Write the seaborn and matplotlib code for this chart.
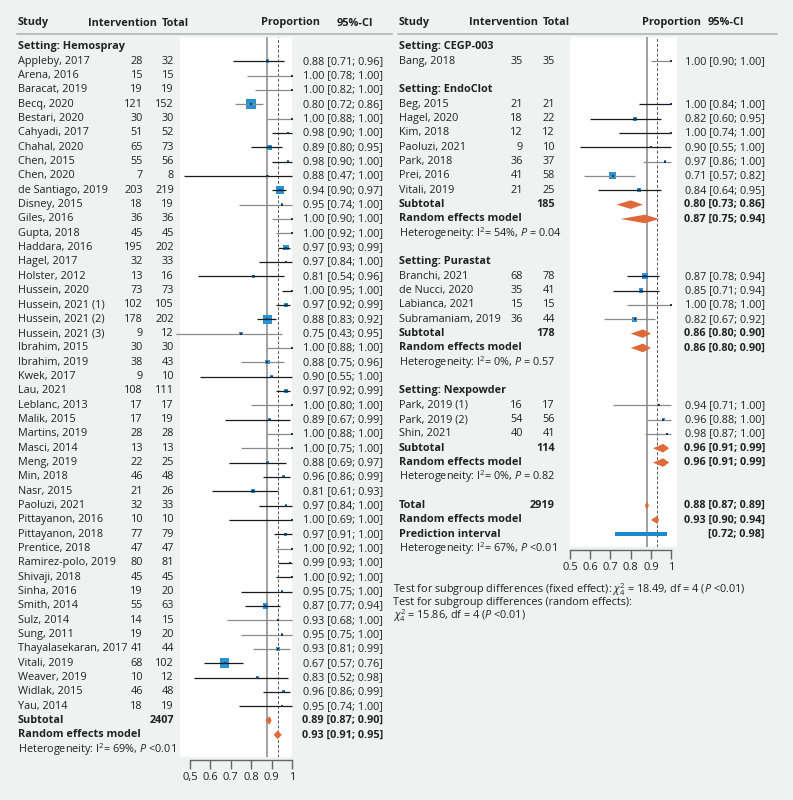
import numpy as np
import pandas as pd
import matplotlib.pyplot as plt
import matplotlib.transforms as mtransforms
from matplotlib.lines import Line2D
import seaborn as sns

# ---------------- data ----------------
# Setting: Hemospray
hemo_study = ["Appleby, 2017", "Arena, 2016", "Baracat, 2019", "Becq, 2020", "Bestari, 2020",
              "Cahyadi, 2017", "Chahal, 2020", "Chen, 2015", "Chen, 2020", "de Santiago, 2019",
              "Disney, 2015", "Giles, 2016", "Gupta, 2018", "Haddara, 2016", "Hagel, 2017",
              "Holster, 2012", "Hussein, 2020", "Hussein, 2021 (1)", "Hussein, 2021 (2)",
              "Hussein, 2021 (3)", "Ibrahim, 2015", "Ibrahim, 2019", "Kwek, 2017", "Lau, 2021",
              "Leblanc, 2013", "Malik, 2015", "Martins, 2019", "Masci, 2014", "Meng, 2019",
              "Min, 2018", "Nasr, 2015", "Paoluzi, 2021", "Pittayanon, 2016", "Pittayanon, 2018",
              "Prentice, 2018", "Ramirez-polo, 2019", "Shivaji, 2018", "Sinha, 2016", "Smith, 2014",
              "Sulz, 2014", "Sung, 2011", "Thayalasekaran, 2017", "Vitali, 2019", "Weaver, 2019",
              "Widlak, 2015", "Yau, 2014"]
hemo_events = [28, 15, 19, 121, 30, 51, 65, 55, 7, 203, 18, 36, 45, 195, 32, 13, 73, 102, 178, 9,
               30, 38, 9, 108, 17, 17, 28, 13, 22, 46, 21, 32, 10, 77, 47, 80, 45, 19, 55, 14, 19,
               41, 68, 10, 46, 18]
hemo_total = [32, 15, 19, 152, 30, 52, 73, 56, 8, 219, 19, 36, 45, 202, 33, 16, 73, 105, 202, 12,
              30, 43, 10, 111, 17, 19, 28, 13, 25, 48, 26, 33, 10, 79, 47, 81, 45, 20, 63, 15, 20,
              44, 102, 12, 48, 19]
hemo_prop = [0.88, 1.00, 1.00, 0.80, 1.00, 0.98, 0.89, 0.98, 0.88, 0.94, 0.95, 1.00, 1.00, 0.97,
             0.97, 0.81, 1.00, 0.97, 0.88, 0.75, 1.00, 0.88, 0.90, 0.97, 1.00, 0.89, 1.00, 1.00,
             0.88, 0.96, 0.81, 0.97, 1.00, 0.97, 1.00, 0.99, 1.00, 0.95, 0.87, 0.93, 0.95, 0.93,
             0.67, 0.83, 0.96, 0.95]
hemo_lo = [0.71, 0.78, 0.82, 0.72, 0.88, 0.90, 0.80, 0.90, 0.47, 0.90, 0.74, 0.90, 0.92, 0.93,
           0.84, 0.54, 0.95, 0.92, 0.83, 0.43, 0.88, 0.75, 0.55, 0.92, 0.80, 0.67, 0.88, 0.75,
           0.69, 0.86, 0.61, 0.84, 0.69, 0.91, 0.92, 0.93, 0.92, 0.75, 0.77, 0.68, 0.75, 0.81,
           0.57, 0.52, 0.86, 0.74]
hemo_hi = [0.96, 1.00, 1.00, 0.86, 1.00, 1.00, 0.95, 1.00, 1.00, 0.97, 1.00, 1.00, 1.00, 0.99,
           1.00, 0.96, 1.00, 0.99, 0.92, 0.95, 1.00, 0.96, 1.00, 0.99, 1.00, 0.99, 1.00, 1.00,
           0.97, 0.99, 0.93, 1.00, 1.00, 1.00, 1.00, 1.00, 1.00, 1.00, 0.94, 1.00, 1.00, 0.99,
           0.76, 0.98, 0.99, 1.00]

# Setting: CEGP-003
cegp_study = ["Bang, 2018"]
cegp_events = [35]
cegp_total = [35]
cegp_prop = [1.00]
cegp_lo = [0.90]
cegp_hi = [1.00]

# Setting: EndoClot
endo_study = ["Beg, 2015", "Hagel, 2020", "Kim, 2018", "Paoluzi, 2021", "Park, 2018",
              "Prei, 2016", "Vitali, 2019"]
endo_events = [21, 18, 12, 9, 36, 41, 21]
endo_total = [21, 22, 12, 10, 37, 58, 25]
endo_prop = [1.00, 0.82, 1.00, 0.90, 0.97, 0.71, 0.84]
endo_lo = [0.84, 0.60, 0.74, 0.55, 0.86, 0.57, 0.64]
endo_hi = [1.00, 0.95, 1.00, 1.00, 1.00, 0.82, 0.95]

# Setting: Purastat
pura_study = ["Branchi, 2021", "de Nucci, 2020", "Labianca, 2021", "Subramaniam, 2019"]
pura_events = [68, 35, 15, 36]
pura_total = [78, 41, 15, 44]
pura_prop = [0.87, 0.85, 1.00, 0.82]
pura_lo = [0.78, 0.71, 0.78, 0.67]
pura_hi = [0.94, 0.94, 1.00, 0.92]

# Setting: Nexpowder
nex_study = ["Park, 2019 (1)", "Park, 2019 (2)", "Shin, 2021"]
nex_events = [16, 54, 40]
nex_total = [17, 56, 41]
nex_prop = [0.94, 0.96, 0.98]
nex_lo = [0.71, 0.88, 0.87]
nex_hi = [1.00, 1.00, 1.00]

# subgroup summaries: n, fixed (est, lo, hi), random (est, lo, hi), I2, P text
hemo_n, hemo_fixed, hemo_random, hemo_het = 2407, (0.89, 0.87, 0.90), (0.93, 0.91, 0.95), ("69%", "<0.01")
endo_n, endo_fixed, endo_random, endo_het = 185, (0.80, 0.73, 0.86), (0.87, 0.75, 0.94), ("54%", "= 0.04")
pura_n, pura_fixed, pura_random, pura_het = 178, (0.86, 0.80, 0.90), (0.86, 0.80, 0.90), ("0%", "= 0.57")
nex_n, nex_fixed, nex_random, nex_het = 114, (0.96, 0.91, 0.99), (0.96, 0.91, 0.99), ("0%", "= 0.82")
total_n, total_fixed, total_random, total_het = 2919, (0.88, 0.87, 0.89), (0.93, 0.90, 0.94), ("67%", "<0.01")
pred_interval = (0.72, 0.98)

# CI lines drawn in grey instead of black
gray_ci = {"Arena, 2016", "Baracat, 2019", "Becq, 2020", "Bestari, 2020", "Disney, 2015",
           "Giles, 2016", "Gupta, 2018", "Hussein, 2021 (3)", "Ibrahim, 2015", "Ibrahim, 2019",
           "Leblanc, 2013", "Martins, 2019", "Masci, 2014", "Prentice, 2018", "Sulz, 2014",
           "Sung, 2011", "Thayalasekaran, 2017", "Bang, 2018", "Park, 2018", "Prei, 2016",
           "Labianca, 2021", "Subramaniam, 2019", "Park, 2019 (1)", "Park, 2019 (2)", "Shin, 2021"}

# ---------------- style ----------------
BG = "#f0f1f1"
BLUE = "#2a92d2"
NAVY = "#16385a"
ORANGE = "#e0693a"
PRED = "#1a8ad0"
BLACK = "#1a1a1a"
GRAY = "#8a8a8a"
FS = 7.8

sns.set_theme(style="white")
plt.rcParams["font.family"] = ["Open Sans", "DejaVu Sans"]
plt.rcParams["mathtext.fontset"] = "custom"
plt.rcParams["mathtext.rm"] = "Open Sans"
plt.rcParams["mathtext.it"] = "Open Sans:italic"
plt.rcParams["mathtext.bf"] = "Open Sans:bold"
plt.rcParams["text.color"] = "#222222"

W, H = 793, 800
ROW0, ROWH = 47, 14.33  # pixel y of first row and row height

fig = plt.figure(figsize=(W / 100, H / 100), dpi=100, facecolor=BG)


def make_panel(x0, x1, y0, y1, zero_px, half_px, labels):
    # x0..x1, y0..y1 pixel box of the white panel; zero_px = pixel of 0.5, half_px = px per 0.5
    ax = fig.add_axes([x0 / W, 1 - y1 / H, (x1 - x0) / W, (y1 - y0) / H])
    ax.set_facecolor("white")
    scale = half_px / 0.5
    ax.set_xlim(0.5 + (x0 - zero_px) / scale, 0.5 + (x1 - zero_px) / scale)
    ax.set_ylim((y1 - ROW0) / ROWH, (y0 - ROW0) / ROWH)
    for s in ["top", "left", "right"]:
        ax.spines[s].set_visible(False)
    ax.spines["bottom"].set_bounds(0.5, 1.0)
    ax.spines["bottom"].set_position(("outward", 2))
    ax.spines["bottom"].set_color("#666666")
    ax.spines["bottom"].set_linewidth(1.0)
    ticks = [0.5, 0.6, 0.7, 0.8, 0.9, 1.0]
    ax.set_xticks(ticks)
    ax.set_xticklabels(labels)
    ax.set_yticks([])
    ax.tick_params(axis="x", direction="out", length=6.5, width=1.0, color="#666666",
                   labelsize=8, labelcolor="#222222", pad=2, bottom=True)
    ax.axvline(total_fixed[0], color="#9a9a9a", lw=1.3, zorder=1)
    ax.axvline(total_random[0], color="#555555", lw=0.7, ls=(0, (3, 2)), zorder=1)
    return ax


def row_text(ax, xpx, row, s, ha="left", bold=False, size=FS):
    tr = mtransforms.blended_transform_factory(fig.transFigure, ax.transData)
    ax.text(xpx / W, row, s, transform=tr, ha=ha, va="center", fontsize=size,
            fontweight="bold" if bold else "normal", clip_on=False)


def ci_text(est, lo, hi):
    return f"{est:.2f} [{lo:.2f}; {hi:.2f}]"


def draw_studies(ax, cols, start, study, events, total, prop, lo, hi):
    df = pd.DataFrame(dict(study=study, events=events, total=total, prop=prop, lo=lo, hi=hi))
    df["row"] = np.arange(start, start + len(df))
    # inverse-variance style weight -> square side
    w = (df.events + 0.5) * (df.total - df.events + 0.5) / (df.total + 1)
    side_pt = 2.0 * np.sqrt(w) * 0.72
    sns.scatterplot(x=df["prop"], y=df["row"], s=side_pt ** 2, marker="s", color=BLUE,
                    linewidth=0, ax=ax, zorder=2, legend=False, clip_on=False)
    colors = [GRAY if s in gray_ci else BLACK for s in df.study]
    ax.hlines(df.row, df.lo, df.hi, colors=colors, lw=0.9, zorder=3, clip_on=False)
    sns.scatterplot(x=df["prop"], y=df["row"], s=3.5, marker="s", color=NAVY,
                    linewidth=0, ax=ax, zorder=4, legend=False, clip_on=False)
    for _, r in df.iterrows():
        row_text(ax, cols["study"], r.row, r.study)
        row_text(ax, cols["ev"], r.row, str(r.events), ha="right")
        row_text(ax, cols["tot"], r.row, str(r.total), ha="right")
        row_text(ax, cols["val"], r.row, ci_text(r.prop, r.lo, r.hi), ha="right")
    return start + len(df)


def diamond(ax, row, est, lo, hi, h=0.3):
    ax.fill([lo, est, hi, est], [row, row - h, row, row + h], color=ORANGE, lw=0,
            zorder=3, clip_on=False)


def draw_summary(ax, cols, row, label, n, fixed, random, het):
    row_text(ax, cols["study"], row, label, bold=True)
    row_text(ax, cols["tot"], row, str(n), ha="right", bold=True)
    row_text(ax, cols["val"], row, ci_text(*fixed), ha="right", bold=True)
    diamond(ax, row, *fixed)
    row_text(ax, cols["study"], row + 1, "Random effects model", bold=True)
    row_text(ax, cols["val"], row + 1, ci_text(*random), ha="right", bold=True)
    diamond(ax, row + 1, *random)
    i2, p = het
    row_text(ax, cols["study"], row + 2, f"Heterogeneity: I$^2$= {i2}, $P$ {p}")
    return row + 3


def header(ax, cols):
    hy = (23 - ROW0) / ROWH
    row_text(ax, cols["study"], hy, "Study", bold=True)
    row_text(ax, cols["h_ev"], hy, "Intervention", ha="right", bold=True)
    row_text(ax, cols["h_tot"], hy, "Total", ha="right", bold=True)
    row_text(ax, cols["h_prop"], hy, "Proportion", bold=True)
    row_text(ax, cols["h_ci"], hy, "95%-CI", bold=True)


# ---------------- left panel ----------------
axL = make_panel(180, 292, 37, 757, 190, 103, ["0,5", "0.6", "0.7", "0.8", "0.9", "1"])
colsL = dict(study=18, ev=143, tot=174, val=383, h_ev=157, h_tot=189, h_prop=261, h_ci=337)
header(axL, colsL)
row_text(axL, colsL["study"], 0, "Setting: Hemospray", bold=True)
r = draw_studies(axL, colsL, 1, hemo_study, hemo_events, hemo_total, hemo_prop, hemo_lo, hemo_hi)
draw_summary(axL, colsL, r, "Subtotal", hemo_n, hemo_fixed, hemo_random, hemo_het)

# ---------------- right panel ----------------
axR = make_panel(570, 677, 37, 547, 566, 105, ["0.5", "0.6", "0.7", "0.8", "0.9", "1"])
colsR = dict(study=399, ev=523, tot=555, val=765, h_ev=538, h_tot=570, h_prop=642, h_ci=708)
header(axR, colsR)

r = 0
row_text(axR, colsR["study"], r, "Setting: CEGP-003", bold=True)
r = draw_studies(axR, colsR, r + 1, cegp_study, cegp_events, cegp_total, cegp_prop, cegp_lo, cegp_hi)
r += 1
row_text(axR, colsR["study"], r, "Setting: EndoClot", bold=True)
r = draw_studies(axR, colsR, r + 1, endo_study, endo_events, endo_total, endo_prop, endo_lo, endo_hi)
r = draw_summary(axR, colsR, r, "Subtotal", endo_n, endo_fixed, endo_random, endo_het) + 1
row_text(axR, colsR["study"], r, "Setting: Purastat", bold=True)
r = draw_studies(axR, colsR, r + 1, pura_study, pura_events, pura_total, pura_prop, pura_lo, pura_hi)
r = draw_summary(axR, colsR, r, "Subtotal", pura_n, pura_fixed, pura_random, pura_het) + 1
row_text(axR, colsR["study"], r, "Setting: Nexpowder", bold=True)
r = draw_studies(axR, colsR, r + 1, nex_study, nex_events, nex_total, nex_prop, nex_lo, nex_hi)
r = draw_summary(axR, colsR, r, "Subtotal", nex_n, nex_fixed, nex_random, nex_het) + 1

# overall
row_text(axR, colsR["study"], r, "Total", bold=True)
row_text(axR, colsR["tot"], r, str(total_n), ha="right", bold=True)
row_text(axR, colsR["val"], r, ci_text(*total_fixed), ha="right", bold=True)
diamond(axR, r, *total_fixed, h=0.27)
row_text(axR, colsR["study"], r + 1, "Random effects model", bold=True)
row_text(axR, colsR["val"], r + 1, ci_text(*total_random), ha="right", bold=True)
diamond(axR, r + 1, *total_random, h=0.27)
row_text(axR, colsR["study"], r + 2, "Prediction interval", bold=True)
row_text(axR, colsR["val"], r + 2, f"[{pred_interval[0]:.2f}; {pred_interval[1]:.2f}]", ha="right", bold=True)
axR.hlines(r + 2, pred_interval[0], pred_interval[1], color=PRED, lw=2.9, zorder=3)
row_text(axR, colsR["study"], r + 3, f"Heterogeneity: I$^2$= {total_het[0]}, $P$ {total_het[1]}")

for a in (axL, axR):
    a.set_xlabel("")
    a.set_ylabel("")

# header rules
for x0, x1 in [(17, 392), (398, 777)]:
    fig.add_artist(Line2D([x0 / W, x1 / W], [1 - 34 / H, 1 - 34 / H], color="#bdbdbd", lw=1.4))

# subgroup tests
FT = 7.8
fig.text(393 / W, 1 - 590 / H,
         r"Test for subgroup differences (fixed effect): $\chi^2_4$ = 18.49, df = 4 ($P$ <0.01)",
         fontsize=FT, va="center")
fig.text(393 / W, 1 - 603 / H, "Test for subgroup differences (random effects):",
         fontsize=FT, va="center")
fig.text(393 / W, 1 - 616 / H, r"$\chi^2_4$ = 15.86, df = 4 ($P$ <0.01)",
         fontsize=FT, va="center")

fig.savefig("out.png", dpi=100, facecolor=BG)
